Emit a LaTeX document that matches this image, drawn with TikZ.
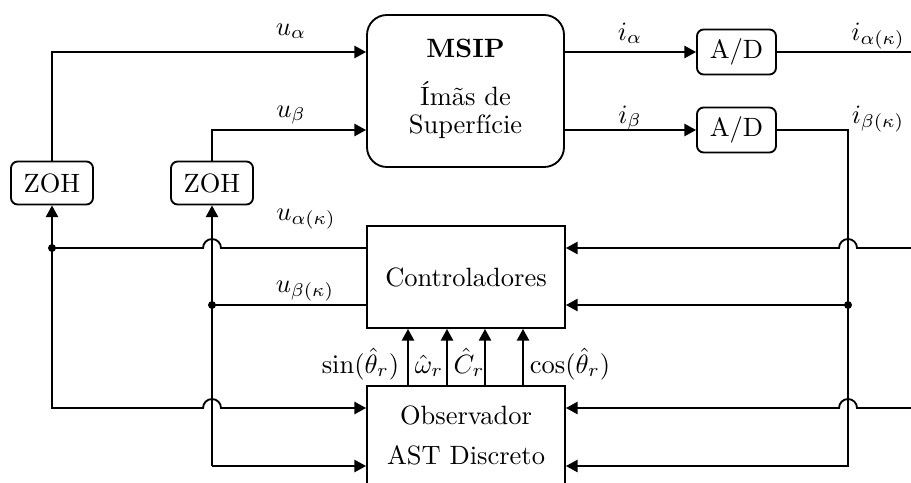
\documentclass[tikz,border=0pt]{standalone}
\usetikzlibrary{arrows.meta,calc}
\newcommand\pxu{0.3776pt}
\begin{document}
\begin{tikzpicture}[x=0.3776pt,y=-0.3776pt, line width=0.7pt,
  arr/.style={-{Triangle[length=4.4pt,width=4.6pt]}},
  rbox/.style={draw, rounded corners=2.5pt, minimum width=82*\pxu, minimum height=43*\pxu, inner sep=0pt},
  sbox/.style={draw, minimum width=198*\pxu, inner sep=0pt},
  lbl/.style={inner sep=0pt},
  dotn/.style={circle, fill, inner sep=0pt, minimum size=3pt}]
\useasboundingbox (0,0) rectangle (911,482);
% blocks
\node[draw, rounded corners=7.5pt, minimum width=197*\pxu, minimum height=152*\pxu] (msip) at (465.5,91) {};
\node[lbl, anchor=base] (msipT) at (465.5,57) {\textbf{MSIP}};
\node[lbl, anchor=base] (msip1) at (465.5,105) {Ímãs de};
\node[lbl, anchor=base] (msip2) at (465.5,133) {Superfície};
\node[rbox] (zoh1) at (52,183) {ZOH};
\node[rbox] (zoh2) at (212,183) {ZOH};
\node[rbox, minimum width=79*\pxu, minimum height=45*\pxu] (ad1) at (736.5,52) {A/D};
\node[rbox, minimum width=79*\pxu, minimum height=45*\pxu] (ad2) at (736.5,130) {A/D};
\node[sbox, minimum height=102*\pxu] (ctrl) at (466,277) {Controladores};
\node[sbox, minimum height=104*\pxu] (obs) at (466,438) {};
\node[lbl, anchor=base] (obs1) at (466,424) {Observador};
\node[lbl, anchor=base] (obs2) at (466,464) {AST Discreto};
% helper coordinates
\coordinate (ya) at (0,52);
\coordinate (yb) at (0,130);
\coordinate (y1) at (0,248);
\coordinate (y2) at (0,305);
\coordinate (y3) at (0,408);
\coordinate (y4) at (0,466);
\coordinate (xR) at (915,0);
\coordinate (jL) at (52,248);
\coordinate (jL2) at (212,305);
\coordinate (jR) at (848,305);
% top signals
\draw[arr] (zoh1.north) |- (ya -| msip.west);
\draw[arr] (zoh2.north) |- (yb -| msip.west);
\draw[arr] (msip.east |- ad1) -- (ad1.west);
\draw[arr] (msip.east |- ad2) -- (ad2.west);
\draw (ad1.east) -- (ad1 -| xR);
\draw[arr] (ad2.east) -| (y4 -| jR) -- (y4 -| obs.east);
\draw[arr] (jR) -- (jR -| ctrl.east);
\draw[arr] (y1 -| xR) -- (857,248) arc[start angle=0,end angle=-180,radius=9] -- (y1 -| ctrl.east);
\draw[arr] (y3 -| xR) -- (857,408) arc[start angle=0,end angle=-180,radius=9] -- (y3 -| obs.east);
% left side
\draw (y1 -| ctrl.west) -- (221,248) arc[start angle=0,end angle=-180,radius=9] -- (jL);
\draw[arr] (jL) -- (zoh1.south);
\draw[arr] (jL) |- (203,408) arc[start angle=180,end angle=360,radius=9] -- (y3 -| obs.west);
\draw (y2 -| ctrl.west) -- (jL2);
\draw[arr] (y4 -| jL2) -- (zoh2.south);
\draw[arr] (y4 -| jL2) -- (y4 -| obs.west);
\node[dotn] (dL1) at (jL) {};
\node[dotn] (dL2) at (jL2) {};
\node[dotn] (dR) at (jR) {};
% observer to controllers
\coordinate (v1) at (408,0);
\coordinate (v2) at (447,0);
\coordinate (v3) at (485,0);
\coordinate (v4) at (523,0);
\draw[arr] (v1 |- obs.north) -- (v1 |- ctrl.south);
\draw[arr] (v2 |- obs.north) -- (v2 |- ctrl.south);
\draw[arr] (v3 |- obs.north) -- (v3 |- ctrl.south);
\draw[arr] (v4 |- obs.north) -- (v4 |- ctrl.south);
% labels
\node[lbl, anchor=base] (lua) at (291,35) {$u_{\alpha}$};
\node[lbl, anchor=base] (lub) at (291,117) {$u_{\beta}$};
\node[lbl, anchor=base] (luak) at (306,220) {$u_{\alpha(\kappa)}$};
\node[lbl, anchor=base] (lubk) at (305,292) {$u_{\beta(\kappa)}$};
\node[lbl, anchor=base] (lia) at (630,40) {$i_{\alpha}$};
\node[lbl, anchor=base] (lib) at (630,123) {$i_{\beta}$};
\node[lbl, anchor=base] (liak) at (878,40) {$i_{\alpha(\kappa)}$};
\node[lbl, anchor=base] (libk) at (878,123) {$i_{\beta(\kappa)}$};
\node[lbl, anchor=base east] (lsin) at (400,373) {$\sin(\hat{\theta}_r)$};
\node[lbl, anchor=base] (lw) at (429,373) {$\hat{\omega}_r$};
\node[lbl, anchor=base] (lc) at (469,373) {$\hat{C}_r$};
\node[lbl, anchor=base west] (lcos) at (529,373) {$\cos(\hat{\theta}_r)$};
\end{tikzpicture}
\end{document}
